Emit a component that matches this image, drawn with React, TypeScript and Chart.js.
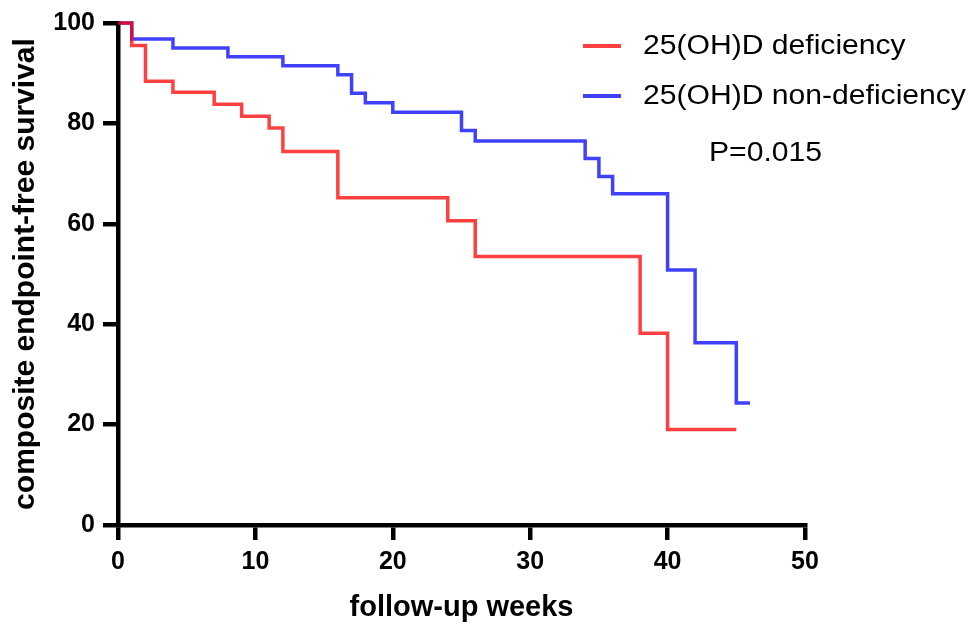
import React, { useEffect, useRef } from 'react';
import { Chart, registerables } from 'chart.js';

Chart.register(...registerables);

// ---- data ----
const deficiencyWeeks = [0, 1, 2, 4, 7, 9, 11, 12, 16, 24, 26, 38, 40, 45];
const deficiencySurvival = [100, 95.5, 88.4, 86.2, 83.8, 81.4, 79.1, 74.4, 65.2, 60.6, 53.5, 38.2, 19.0, 19.0];

const nonDeficiencyWeeks = [0, 1, 4, 8, 12, 16, 17, 18, 20, 25, 26, 34, 35, 36, 40, 42, 45, 46];
const nonDeficiencySurvival = [100, 96.8, 95.0, 93.3, 91.5, 89.7, 86.0, 84.1, 82.2, 78.6, 76.5, 73.0, 69.4, 66.0, 50.8, 36.3, 24.3, 24.3];

const seriesLabels = ['25(OH)D deficiency', '25(OH)D non-deficiency'];
const pValueText = 'P=0.015';
const xTickValues = [0, 10, 20, 30, 40, 50];
const yTickValues = [0, 20, 40, 60, 80, 100];
const xTitle = 'follow-up weeks';
const yTitle = 'composite endpoint-free survival';

const FONT = 'Arial, "Liberation Sans", sans-serif';

const legendPlugin = {
  id: 'kmLegend',
  afterDraw(chart: any) {
    const ctx = chart.ctx as CanvasRenderingContext2D;
    ctx.save();
    ctx.textBaseline = 'middle';
    ctx.textAlign = 'left';
    ctx.fillStyle = '#000';
    const sx = 1.115;
    ctx.font = `27px ${FONT}`;
    chart.data.datasets.forEach((ds: any, i: number) => {
      const y = 47 + i * 50;
      ctx.strokeStyle = ds.borderColor;
      ctx.lineWidth = 4;
      ctx.beginPath();
      ctx.moveTo(583, y - 1);
      ctx.lineTo(621, y - 1);
      ctx.stroke();
      ctx.save();
      ctx.translate(643, y);
      ctx.scale(sx, 1);
      ctx.fillText(ds.label, 0, 0);
      ctx.restore();
    });
    ctx.save();
    ctx.translate(709, 154);
    ctx.scale(sx, 1);
    ctx.fillText(pValueText, 0, 0);
    ctx.restore();
    ctx.restore();
  },
};

export default function App() {
  const ref = useRef<HTMLCanvasElement | null>(null);

  useEffect(() => {
    const canvas = ref.current;
    if (!canvas) return;
    const chart = new Chart(canvas, {
      type: 'line',
      data: {
        datasets: [
          {
            label: seriesLabels[0],
            data: deficiencyWeeks.map((w, i) => ({ x: w, y: deficiencySurvival[i] })),
            borderColor: 'rgba(255,0,0,0.75)',
            borderWidth: 3.5,
            pointRadius: 0,
            stepped: 'before',
            fill: false,
            clip: false,
          },
          {
            label: seriesLabels[1],
            data: nonDeficiencyWeeks.map((w, i) => ({ x: w, y: nonDeficiencySurvival[i] })),
            borderColor: 'rgba(0,0,255,0.75)',
            borderWidth: 3.5,
            pointRadius: 0,
            stepped: 'before',
            fill: false,
            clip: false,
          },
        ],
      },
      options: {
        animation: false,
        responsive: false,
        devicePixelRatio: 1,
        layout: { padding: { left: 0, right: 163, top: 21, bottom: 0 } },
        plugins: {
          legend: { display: false },
          tooltip: { enabled: false },
          title: { display: false },
        },
        scales: {
          x: {
            type: 'linear',
            min: 0,
            max: 50,
            afterBuildTicks: (scale: any) => {
              scale.ticks = xTickValues.map((v) => ({ value: v }));
            },
            afterFit: (scale: any) => {
              scale.height = 99;
            },
            grid: {
              drawOnChartArea: false,
              drawTicks: true,
              tickLength: 15,
              lineWidth: 4.5,
              color: '#000',
            },
            border: { display: true, width: 4.5, color: '#000' },
            ticks: {
              color: '#000',
              padding: 7,
              maxRotation: 0,
              font: { family: FONT, size: 25, weight: 'bold' },
            },
            title: {
              display: true,
              text: xTitle,
              color: '#000',
              font: { family: FONT, size: 29, weight: 'bold', lineHeight: 1 },
              padding: { top: 0, bottom: 2 },
            },
          },
          y: {
            type: 'linear',
            min: 0,
            max: 100,
            afterBuildTicks: (scale: any) => {
              scale.ticks = yTickValues.map((v) => ({ value: v }));
            },
            afterFit: (scale: any) => {
              scale.width = 118;
            },
            grid: {
              drawOnChartArea: false,
              drawTicks: true,
              tickLength: 15,
              lineWidth: 4.5,
              color: '#000',
            },
            border: { display: true, width: 4.5, color: '#000' },
            ticks: {
              color: '#000',
              padding: 8,
              font: { family: FONT, size: 25, weight: 'bold' },
            },
            title: {
              display: true,
              text: yTitle,
              color: '#000',
              font: { family: FONT, size: 30, weight: 'bold', lineHeight: 1 },
              padding: { top: 11, bottom: 0 },
            },
          },
        },
      },
      plugins: [legendPlugin],
    });
    return () => chart.destroy();
  }, []);

  return (
    <div style={{ position: 'fixed', left: 0, top: 0, width: 968, height: 624, background: '#fff' }}>
      <canvas ref={ref} width={968} height={624} style={{ width: 968, height: 624, display: 'block' }} />
    </div>
  );
}
